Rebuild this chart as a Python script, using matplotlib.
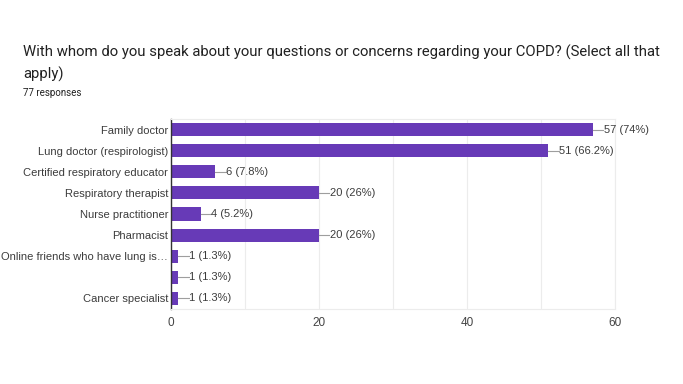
import matplotlib.pyplot as plt

categories = [
    "Family doctor",
    "Lung doctor (respirologist)",
    "Certified respiratory educator",
    "Respiratory therapist",
    "Nurse practitioner",
    "Pharmacist",
    "Online friends who have lung is\u2026",
    "",
    "Cancer specialist",
]
counts = [57, 51, 6, 20, 4, 20, 1, 1, 1]
pct_labels = ["74%", "66.2%", "7.8%", "26%", "5.2%", "26%", "1.3%", "1.3%", "1.3%"]
xticks = [0, 20, 40, 60]

plt.rcParams['font.family'] = ['Liberation Sans', 'DejaVu Sans']

fig = plt.figure(figsize=(6.83, 3.84), dpi=100)
ax = fig.add_axes([171 / 683, 1 - 309 / 384, 444 / 683, 190 / 384])

ypos = list(range(len(categories)))
ax.barh(ypos, counts, height=0.62, color="#673ab7")

# leader line + value label
for y, c, p in zip(ypos, counts, pct_labels):
    ax.plot([c, c + 1.4], [y, y], color="#9e9e9e", lw=0.8)
    ax.text(c + 1.45, y, f"{c} ({p})", va="center", ha="left",
            fontsize=8, color="#3c3c3c")

ax.set_ylim(len(categories) - 0.5, -0.5)
ax.set_xlim(0, 60)
ax.set_yticks(ypos)
ax.set_yticklabels(categories, fontsize=8, color="#3c3c3c")
ax.set_xticks(xticks)
ax.set_xticklabels([str(t) for t in xticks], fontsize=8.5, color="#444444")
ax.set_xticks(range(10, 60, 20), minor=True)
ax.grid(axis="x", which="both", color="#ececec", lw=0.8)
ax.set_axisbelow(True)
ax.tick_params(axis="both", which="both", length=0, pad=2)
ax.tick_params(axis="x", pad=6)

for side in ["top", "right", "bottom"]:
    ax.spines[side].set_color("#ececec")
    ax.spines[side].set_linewidth(0.8)
ax.spines["left"].set_color("#333333")
ax.spines["left"].set_linewidth(1.0)

title_font = ['Roboto', 'DejaVu Sans']
fig.text(23 / 683, 1 - 52 / 384, "With whom do you speak about your questions or concerns regarding your COPD? (Select all that",
         fontsize=10.7, color="#212121", va="center", ha="left", family=title_font)
fig.text(23 / 683, 1 - 74 / 384, "apply)", fontsize=10.7, color="#212121", va="center", ha="left", family=title_font)
fig.text(23 / 683, 1 - 93 / 384, "77 responses", fontsize=7, color="#212121", va="center", ha="left", family=title_font)

fig.savefig("out.png", dpi=100)
